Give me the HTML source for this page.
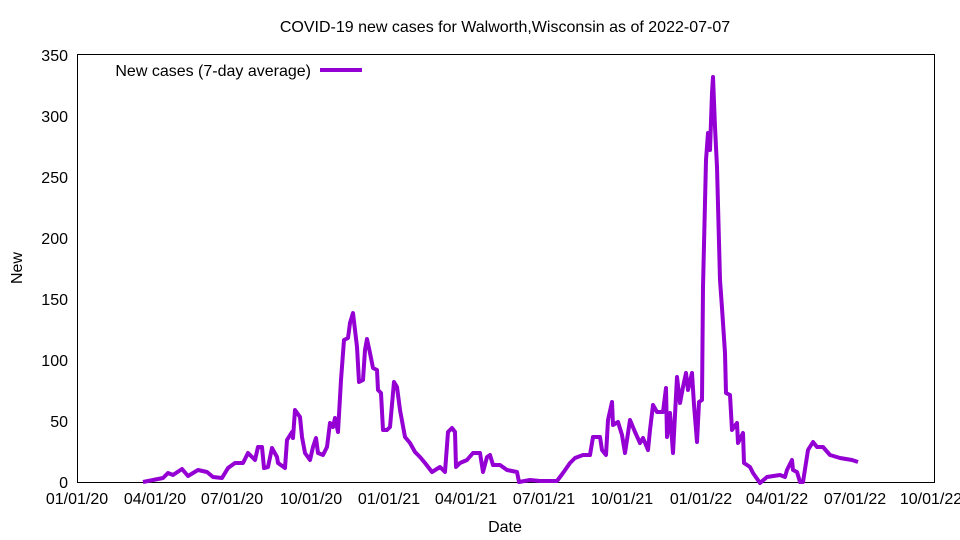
<!DOCTYPE html>
<html><head><meta charset="utf-8"><style>
body{margin:0;background:#fff;}
svg{display:block;font-family:"Liberation Sans",Arial,sans-serif;font-size:16px;}
</style></head><body>
<svg id="s" width="960" height="540" viewBox="0 0 960 540" xmlns="http://www.w3.org/2000/svg">
<rect width="960" height="540" fill="#fff"/>
<text x="505" y="32" text-anchor="middle">COVID-19 new cases for Walworth,Wisconsin as of 2022-07-07</text>
<g id="ticks" stroke="#000" stroke-width="1"></g>
<rect x="77.5" y="54.5" width="857" height="428" fill="none" stroke="#000" stroke-width="1"/>
<g text-anchor="end">
<text x="68" y="488">0</text>
<text x="68" y="427">50</text>
<text x="68" y="366">100</text>
<text x="68" y="305">150</text>
<text x="68" y="244">200</text>
<text x="68" y="183">250</text>
<text x="68" y="122">300</text>
<text x="68" y="61">350</text>
</g>
<g text-anchor="middle">
<text x="77" y="504">01/01/20</text>
<text x="155" y="504">04/01/20</text>
<text x="232" y="504">07/01/20</text>
<text x="311" y="504">10/01/20</text>
<text x="389" y="504">01/01/21</text>
<text x="466" y="504">04/01/21</text>
<text x="544" y="504">07/01/21</text>
<text x="622" y="504">10/01/21</text>
<text x="701" y="504">01/01/22</text>
<text x="777" y="504">04/01/22</text>
<text x="855" y="504">07/01/22</text>
<text x="931" y="504">10/01/22</text>
</g>
<text x="505" y="532" text-anchor="middle">Date</text>
<text x="22" y="268" text-anchor="middle" transform="rotate(-90 22 268)">New</text>
<text x="311" y="76" text-anchor="end">New cases (7-day average)</text>
<line x1="320" y1="70" x2="362" y2="70" stroke="#9400d3" stroke-width="4"/>
<polyline fill="none" stroke="#9400d3" stroke-width="4" stroke-linejoin="round" points="
143,482 163,478 168,473 173,475 182,469 188,476 198,470 207,472 213,477 222,478 228,468 235,463 243,463 248,453 255,460 258,447 262,447 264,468 268,467 272,448 277,457 278,463 285,468 287,440 292,432 293,438 295,410 300,417 302,437 305,453 310,460 313,447 316,438 318,453 323,455 327,447 330,423 333,427 335,418 338,432 341,380 344,340 348,338 350,323 353,313 357,347 359,382 363,380 365,350 367,339 370,353 373,368 377,370 378,390 381,393 383,430 387,430 390,427 394,382 397,387 400,410 405,437 410,443 415,452 420,457 425,463 432,472 440,467 445,472 448,432 452,428 455,432 456,467 460,463 467,460 473,453 480,453 483,472 487,457 490,455 493,465 500,465 507,470 517,472 519,482 530,480 540,481 557,481 563,473 570,463 575,458 583,455 590,455 593,437 600,437 602,450 606,455 608,420 612,402 613,425 618,422 622,435 625,453 630,420 635,432 640,443 643,438 648,450 650,430 653,405 657,412 663,412 666,388 667,437 670,413 673,453 675,415 677,377 680,403 683,387 686,373 688,390 692,373 694,405 697,442 699,402 702,400 703,287 706,160 708,133 710,150 712,93 713,77 715,127 717,167 720,280 722,308 725,353 726,393 730,395 732,430 737,423 738,443 743,433 744,463 750,467 753,473 760,483 767,477 780,475 785,477 787,470 792,460 793,470 797,472 800,482 803,482 808,450 813,442 817,447 823,447 830,455 840,458 852,460 858,462"/>
<script>
var g=document.getElementById('ticks'),h='';
for(var v=0;v<=350;v+=50){var y=482.5-v*1.2229;h+='<line x1="77" x2="84" y1="'+y+'" y2="'+y+'"/><line x1="927" x2="934" y1="'+y+'" y2="'+y+'"/>';}
for(var yr=2020;yr<=2022;yr++)for(var m=0;m<12;m++){var d=(Date.UTC(yr,m,1)-Date.UTC(2020,0,1))/864e5;if(d>1004)break;var x=77.5+d*0.8536;var L=(m%3==0)?7:4;h+='<line x1="'+x+'" x2="'+x+'" y1="482" y2="'+(482-L)+'"/><line x1="'+x+'" x2="'+x+'" y1="54" y2="'+(54+L)+'"/>';}
g.innerHTML=h;
</script>
</svg>
</body></html>
